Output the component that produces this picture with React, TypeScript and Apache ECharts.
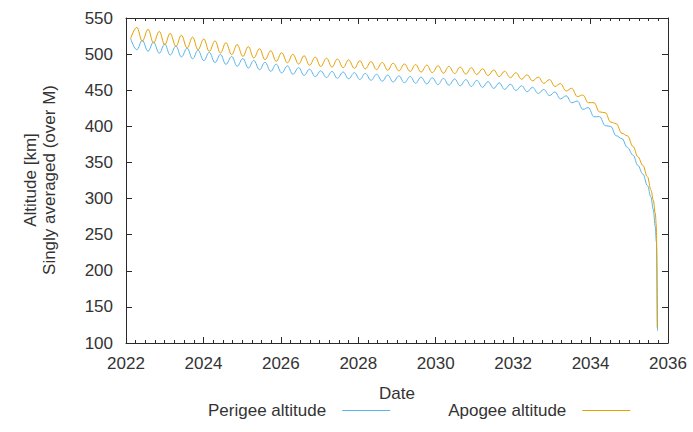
import React, { useEffect, useRef } from "react";
import * as echarts from "echarts";

// Decimal years of the oscillation extrema (apogee peak / perigee trough alternate with apogee trough / perigee peak)
const years = [
  2022.12,
  2022.28, 2022.42, 2022.57, 2022.71, 2022.86, 2023.0, 2023.14, 2023.29, 2023.43, 2023.58,
  2023.72, 2023.86, 2024.01, 2024.15, 2024.3, 2024.44, 2024.58, 2024.73, 2024.87, 2025.02,
  2025.16, 2025.3, 2025.45, 2025.59, 2025.74, 2025.88, 2026.02, 2026.17, 2026.31, 2026.46,
  2026.6, 2026.74, 2026.89, 2027.03, 2027.18, 2027.32, 2027.46, 2027.61, 2027.75, 2027.9,
  2028.04, 2028.18, 2028.33, 2028.47, 2028.62, 2028.76, 2028.9, 2029.05, 2029.19, 2029.34,
  2029.48, 2029.62, 2029.77, 2029.91, 2030.06, 2030.2, 2030.34, 2030.49, 2030.63, 2030.78,
  2030.92, 2031.06, 2031.21, 2031.35, 2031.5, 2031.64, 2031.78, 2031.93, 2032.07, 2032.22,
  2032.36, 2032.5, 2032.65, 2032.79, 2032.94, 2033.08, 2033.22, 2033.37, 2033.51, 2033.66,
  2033.8, 2033.94, 2034.09, 2034.23, 2034.38, 2034.52, 2034.66, 2034.81, 2034.95,
  2035.1, 2035.22, 2035.35, 2035.47, 2035.56, 2035.62, 2035.67, 2035.7,
];

const apogeeKm = [
  521.5,
  537, 518, 534.3, 515.5, 531.4, 513, 528.7, 510.7, 526.1, 508.4,
  523.5, 506.1, 520.9, 503.8, 518.3, 501.5, 515.8, 499.2, 513.2, 496.8,
  510.4, 494.6, 507.5, 492.3, 504.6, 490, 501.9, 488, 499.8, 486.2,
  497.8, 484.6, 495.8, 482.9, 494.3, 482, 493.2, 481.2, 492, 480.3,
  490.8, 479.5, 489.7, 478.6, 488.5, 477.7, 487.4, 476.8, 486.4, 476,
  485.6, 475.1, 484.7, 474.3, 483.8, 473.6, 483, 473, 482.1, 472.4,
  481.2, 471.7, 479.7, 470.3, 478, 468.8, 476.3, 467.3, 474.3, 465.2,
  471.4, 463, 468.2, 459.5, 464.7, 455.2, 459.2, 448.9, 452.7, 441.2,
  443.4, 432.8, 432.7, 420, 418.8, 405.9, 403.7, 390.3, 386.9,
  372, 358, 346, 330, 312, 298, 280, 262,
];

const perigeeKm = [
  521.5,
  506, 519, 504, 516.5, 501.2, 514, 498.7, 511.1, 496.1, 508.2,
  493.5, 505.4, 490.9, 502.5, 488.3, 499.6, 485.8, 496.7, 483.2, 493.8,
  480.7, 491.3, 478.4, 488.7, 476.1, 486.1, 473.9, 483.6, 472.1, 481.3,
  470.4, 479.1, 468.7, 476.9, 467.5, 476, 466.6, 475.2, 465.8, 474.3,
  464.8, 473.3, 463.7, 472.1, 462.5, 471, 461.4, 469.8, 460.4, 469,
  459.6, 468.1, 458.7, 467.3, 457.8, 466.4, 457, 465.5, 456.1, 464.7,
  455.2, 463.6, 454, 461.9, 452.5, 460.2, 451.1, 458.4, 449.6, 456.2,
  447.8, 454, 445.5, 451.1, 442.6, 447.6, 438, 442.3, 432.7, 434.9,
  423.4, 425.9, 413.2, 413.4, 401, 399.8, 387, 383, 370.8,
  360, 346, 334, 318, 302, 285, 262, 240,
];

// Final re-entry drop
const apogeeEnd = [[2035.72, 121]];
const perigeeEnd = [[2035.73, 117]];

const xTicks = { min: 2022, max: 2036, interval: 2 };
const yTicks = { min: 100, max: 550, interval: 50 };

const FONT = '"Liberation Sans", Arial, sans-serif';
const AXIS_COLOR = "#2a2a2a";
const TEXT_COLOR = "#333";

export default function App() {
  const ref = useRef<HTMLDivElement>(null);

  useEffect(() => {
    if (!ref.current) return;
    const chart = echarts.init(ref.current, undefined, { renderer: "svg" });

    const perigeeData = years.map((y, i) => [y, perigeeKm[i]]).concat(perigeeEnd);
    const apogeeData = years.map((y, i) => [y, apogeeKm[i]]).concat(apogeeEnd);

    const axisCommonX = {
      type: "value" as const,
      min: xTicks.min,
      max: xTicks.max,
      interval: xTicks.interval,
      axisLine: { show: true, lineStyle: { color: AXIS_COLOR, width: 1 } },
      axisTick: { show: true, inside: true, length: 6, lineStyle: { color: AXIS_COLOR } },
      minorTick: { show: true, splitNumber: 8, length: 3, lineStyle: { color: AXIS_COLOR } },
      splitLine: { show: false },
    };
    const axisCommonY = {
      type: "value" as const,
      min: yTicks.min,
      max: yTicks.max,
      interval: yTicks.interval,
      axisLine: { show: true, lineStyle: { color: AXIS_COLOR, width: 1 } },
      axisTick: { show: true, inside: true, length: 6, lineStyle: { color: AXIS_COLOR } },
      splitLine: { show: false },
    };

    chart.setOption({
      animation: false,
      backgroundColor: "#ffffff",
      textStyle: { fontFamily: FONT },
      grid: { left: 126, right: 25, top: 18, bottom: 89, containLabel: false },
      xAxis: [
        {
          ...axisCommonX,
          position: "bottom",
          axisLabel: {
            show: true,
            fontSize: 17,
            color: TEXT_COLOR,
            fontFamily: FONT,
            margin: 12,
            formatter: (v: number) => String(v),
          },
        },
        { ...axisCommonX, position: "top", axisLabel: { show: false } },
      ],
      yAxis: [
        {
          ...axisCommonY,
          position: "left",
          axisLabel: {
            show: true,
            fontSize: 17,
            color: TEXT_COLOR,
            fontFamily: FONT,
            margin: 13,
            formatter: (v: number) => String(v),
          },
        },
        { ...axisCommonY, position: "right", axisLabel: { show: false } },
      ],
      legend: {
        show: true,
        left: 208,
        top: 402,
        padding: 0,
        align: "right",
        icon: "rect",
        itemWidth: 48,
        itemHeight: 1,
        itemGap: 58,
        selectedMode: false,
        textStyle: { fontSize: 17, color: TEXT_COLOR, fontFamily: FONT, padding: [0, 11, 0, 0] },
        data: ["Perigee altitude", "Apogee altitude"],
      },
      graphic: [
        {
          type: "text",
          x: 39.5,
          y: 180,
          rotation: Math.PI / 2,
          style: {
            text: "Altitude [km]\nSingly averaged (over M)",
            font: `17px ${FONT}`,
            fill: TEXT_COLOR,
            align: "center",
            verticalAlign: "middle",
            lineHeight: 19,
          },
        },
        {
          type: "text",
          x: 397,
          y: 393,
          style: {
            text: "Date",
            font: `17px ${FONT}`,
            fill: TEXT_COLOR,
            align: "center",
            verticalAlign: "middle",
          },
        },
      ],
      series: [
        {
          name: "Perigee altitude",
          type: "line",
          xAxisIndex: 0,
          yAxisIndex: 0,
          data: perigeeData,
          showSymbol: false,
          smooth: 0.4,
          smoothMonotone: "x",
          lineStyle: { color: "#56B4E9", width: 1 },
          itemStyle: { color: "#56B4E9" },
        },
        {
          name: "Apogee altitude",
          type: "line",
          xAxisIndex: 0,
          yAxisIndex: 0,
          data: apogeeData,
          showSymbol: false,
          smooth: 0.4,
          smoothMonotone: "x",
          lineStyle: { color: "#E69F00", width: 1 },
          itemStyle: { color: "#E69F00" },
        },
      ],
    });

    return () => chart.dispose();
  }, []);

  return (
    <div
      ref={ref}
      style={{ position: "fixed", left: 0, top: 0, width: 693, height: 432, background: "#fff" }}
    />
  );
}
